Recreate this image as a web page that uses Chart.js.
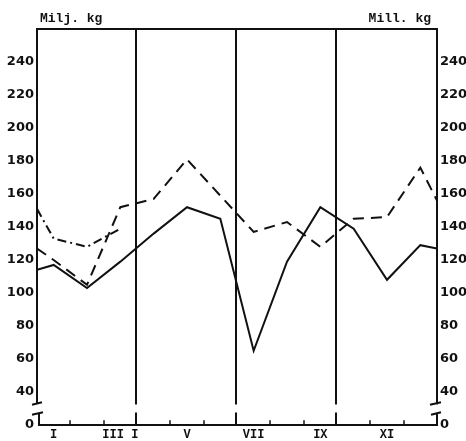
<!DOCTYPE html>
<html>
<head>
<meta charset="utf-8">
<script src="https://cdn.jsdelivr.net/npm/chart.js@4/dist/chart.umd.min.js"></script>
<style>
  html, body { margin: 0; padding: 0; background: #fff; }
  canvas { display: block; }
</style>
</head>
<body>
<canvas id="chartMonthly" width="466" height="441"></canvas>
<script>
// month positions on the x axis (0 = start of Jan, 12 = end of Dec)
const pointPos = [0, 0.5, 1.5, 2.5, 3.5, 4.5, 5.5, 6.5, 7.5, 8.5, 9.5, 10.5, 11.5, 12];

// series values, Milj. kg
const solidValues = [114, 117, 103, 119, 136, 152, 145, 65, 119, 152, 139, 108, 129, 127];
const dashedValues = [127, 120, 105, 152, 157, 181, 159, 137, 143, 128, 145, 146, 176, 156];
const dashDotValues = [151, 133, 128, 139];

// axis labels
const monthLabelPos = [0.5, 2.5, 4.5, 6.5, 8.5, 10.5];
const monthLabels = ["I", "III I", "V", "VII", "IX", "XI"];
const monthTicks = [1, 2, 4, 5, 7, 8, 10, 11];
const quarterLines = [3, 6, 9];
const yTickVals = [20, 40, 60, 80, 100, 120, 140, 160, 180, 200, 220, 240];
const yTickLabels = ["0", "40", "60", "80", "100", "120", "140", "160", "180", "200", "220", "240"];
const breakRange = [27, 33];

const INK = "#111";

function toPoints(values) {
  return values.map((v, i) => ({ x: pointPos[i], y: v }));
}

const framePlugin = {
  id: "frame",
  afterDatasetsDraw(chart) {
    const { ctx, chartArea: a, scales } = chart;
    const x = scales.x, y = scales.y;
    const yb1 = y.getPixelForValue(breakRange[1]);
    const yb0 = y.getPixelForValue(breakRange[0]);
    ctx.save();
    ctx.strokeStyle = INK;
    ctx.lineWidth = 2;
    ctx.lineCap = "square";

    // top border
    ctx.beginPath();
    ctx.moveTo(a.left, a.top);
    ctx.lineTo(a.right, a.top);
    // left axis with break
    ctx.moveTo(a.left, a.top);
    ctx.lineTo(a.left, yb1);
    ctx.moveTo(a.left - 4, yb1 + 1);
    ctx.lineTo(a.left + 4, yb1 - 1);
    ctx.moveTo(a.left - 4, yb0 + 1);
    ctx.lineTo(a.left + 5, yb0 - 1);
    ctx.moveTo(a.left + 2, yb0);
    ctx.lineTo(a.left + 2, a.bottom);
    // right axis with break
    ctx.moveTo(a.right, a.top);
    ctx.lineTo(a.right, yb1);
    ctx.moveTo(a.right - 6, yb1 + 1);
    ctx.lineTo(a.right + 3, yb1 - 1);
    ctx.moveTo(a.right - 5, yb0 + 1);
    ctx.lineTo(a.right + 3, yb0 - 1);
    ctx.moveTo(a.right, yb0);
    ctx.lineTo(a.right, a.bottom);
    // bottom axis
    ctx.moveTo(a.left + 2, a.bottom);
    ctx.lineTo(a.right, a.bottom);
    ctx.stroke();

    // quarter dividers
    ctx.beginPath();
    quarterLines.forEach((q) => {
      const px = Math.round(x.getPixelForValue(q)) - 1;
      ctx.moveTo(px, a.top);
      ctx.lineTo(px, yb1);
      ctx.moveTo(px, yb0);
      ctx.lineTo(px, a.bottom);
    });
    ctx.stroke();

    // month ticks
    ctx.beginPath();
    ctx.lineWidth = 1.5;
    monthTicks.forEach((m) => {
      const px = Math.round(x.getPixelForValue(m));
      ctx.moveTo(px, a.bottom);
      ctx.lineTo(px, a.bottom - 4);
    });
    ctx.stroke();

    // unit labels
    ctx.fillStyle = INK;
    ctx.font = "bold 13px 'Liberation Mono'";
    ctx.textBaseline = "alphabetic";
    ctx.textAlign = "left";
    ctx.fillText("Milj. kg", a.left + 3, a.top - 7);
    ctx.textAlign = "right";
    ctx.fillText("Mill. kg", a.right - 6, a.top - 7);
    ctx.restore();
  },
};

const lineStyle = {
  borderColor: INK,
  borderWidth: 2,
  pointRadius: 0,
  tension: 0,
  fill: false,
};

const tickFont = { family: "DejaVu Sans", weight: "bold", size: 13 };

new Chart(document.getElementById("chartMonthly"), {
  type: "line",
  data: {
    datasets: [
      { ...lineStyle, label: "solid", data: toPoints(solidValues) },
      { ...lineStyle, label: "dashed", data: toPoints(dashedValues), borderDash: [11, 7] },
      { ...lineStyle, label: "dashdot", data: toPoints(dashDotValues), borderDash: [9, 4, 2, 4] },
    ],
  },
  options: {
    responsive: false,
    animation: false,
    devicePixelRatio: 1,
    layout: { padding: { top: 29, left: 0, right: 0, bottom: 0 } },
    plugins: { legend: { display: false }, tooltip: { enabled: false } },
    scales: {
      x: {
        type: "linear",
        min: 0,
        max: 12,
        border: { display: false },
        grid: { display: false, drawTicks: false },
        afterBuildTicks: (s) => { s.ticks = monthLabelPos.map((v) => ({ value: v })); },
        afterFit: (s) => { s.height = 16; },
        ticks: {
          autoSkip: false,
          maxRotation: 0,
          padding: 3,
          color: INK,
          font: { family: "Liberation Mono", weight: "bold", size: 12 },
          callback: (v) => monthLabels[monthLabelPos.indexOf(v)],
        },
      },
      y: {
        position: "left",
        min: 20,
        max: 260,
        border: { display: false },
        grid: { display: false, drawTicks: false },
        afterBuildTicks: (s) => { s.ticks = yTickVals.map((v) => ({ value: v })); },
        afterFit: (s) => { s.width = 37; },
        ticks: {
          padding: 3,
          color: INK,
          font: tickFont,
          callback: (v) => yTickLabels[yTickVals.indexOf(v)],
        },
      },
      y2: {
        position: "right",
        min: 20,
        max: 260,
        border: { display: false },
        grid: { display: false, drawTicks: false },
        afterBuildTicks: (s) => { s.ticks = yTickVals.map((v) => ({ value: v })); },
        afterFit: (s) => { s.width = 29; },
        ticks: {
          padding: 3,
          color: INK,
          font: tickFont,
          callback: (v) => yTickLabels[yTickVals.indexOf(v)],
        },
      },
    },
  },
  plugins: [framePlugin],
});
</script>
</body>
</html>
